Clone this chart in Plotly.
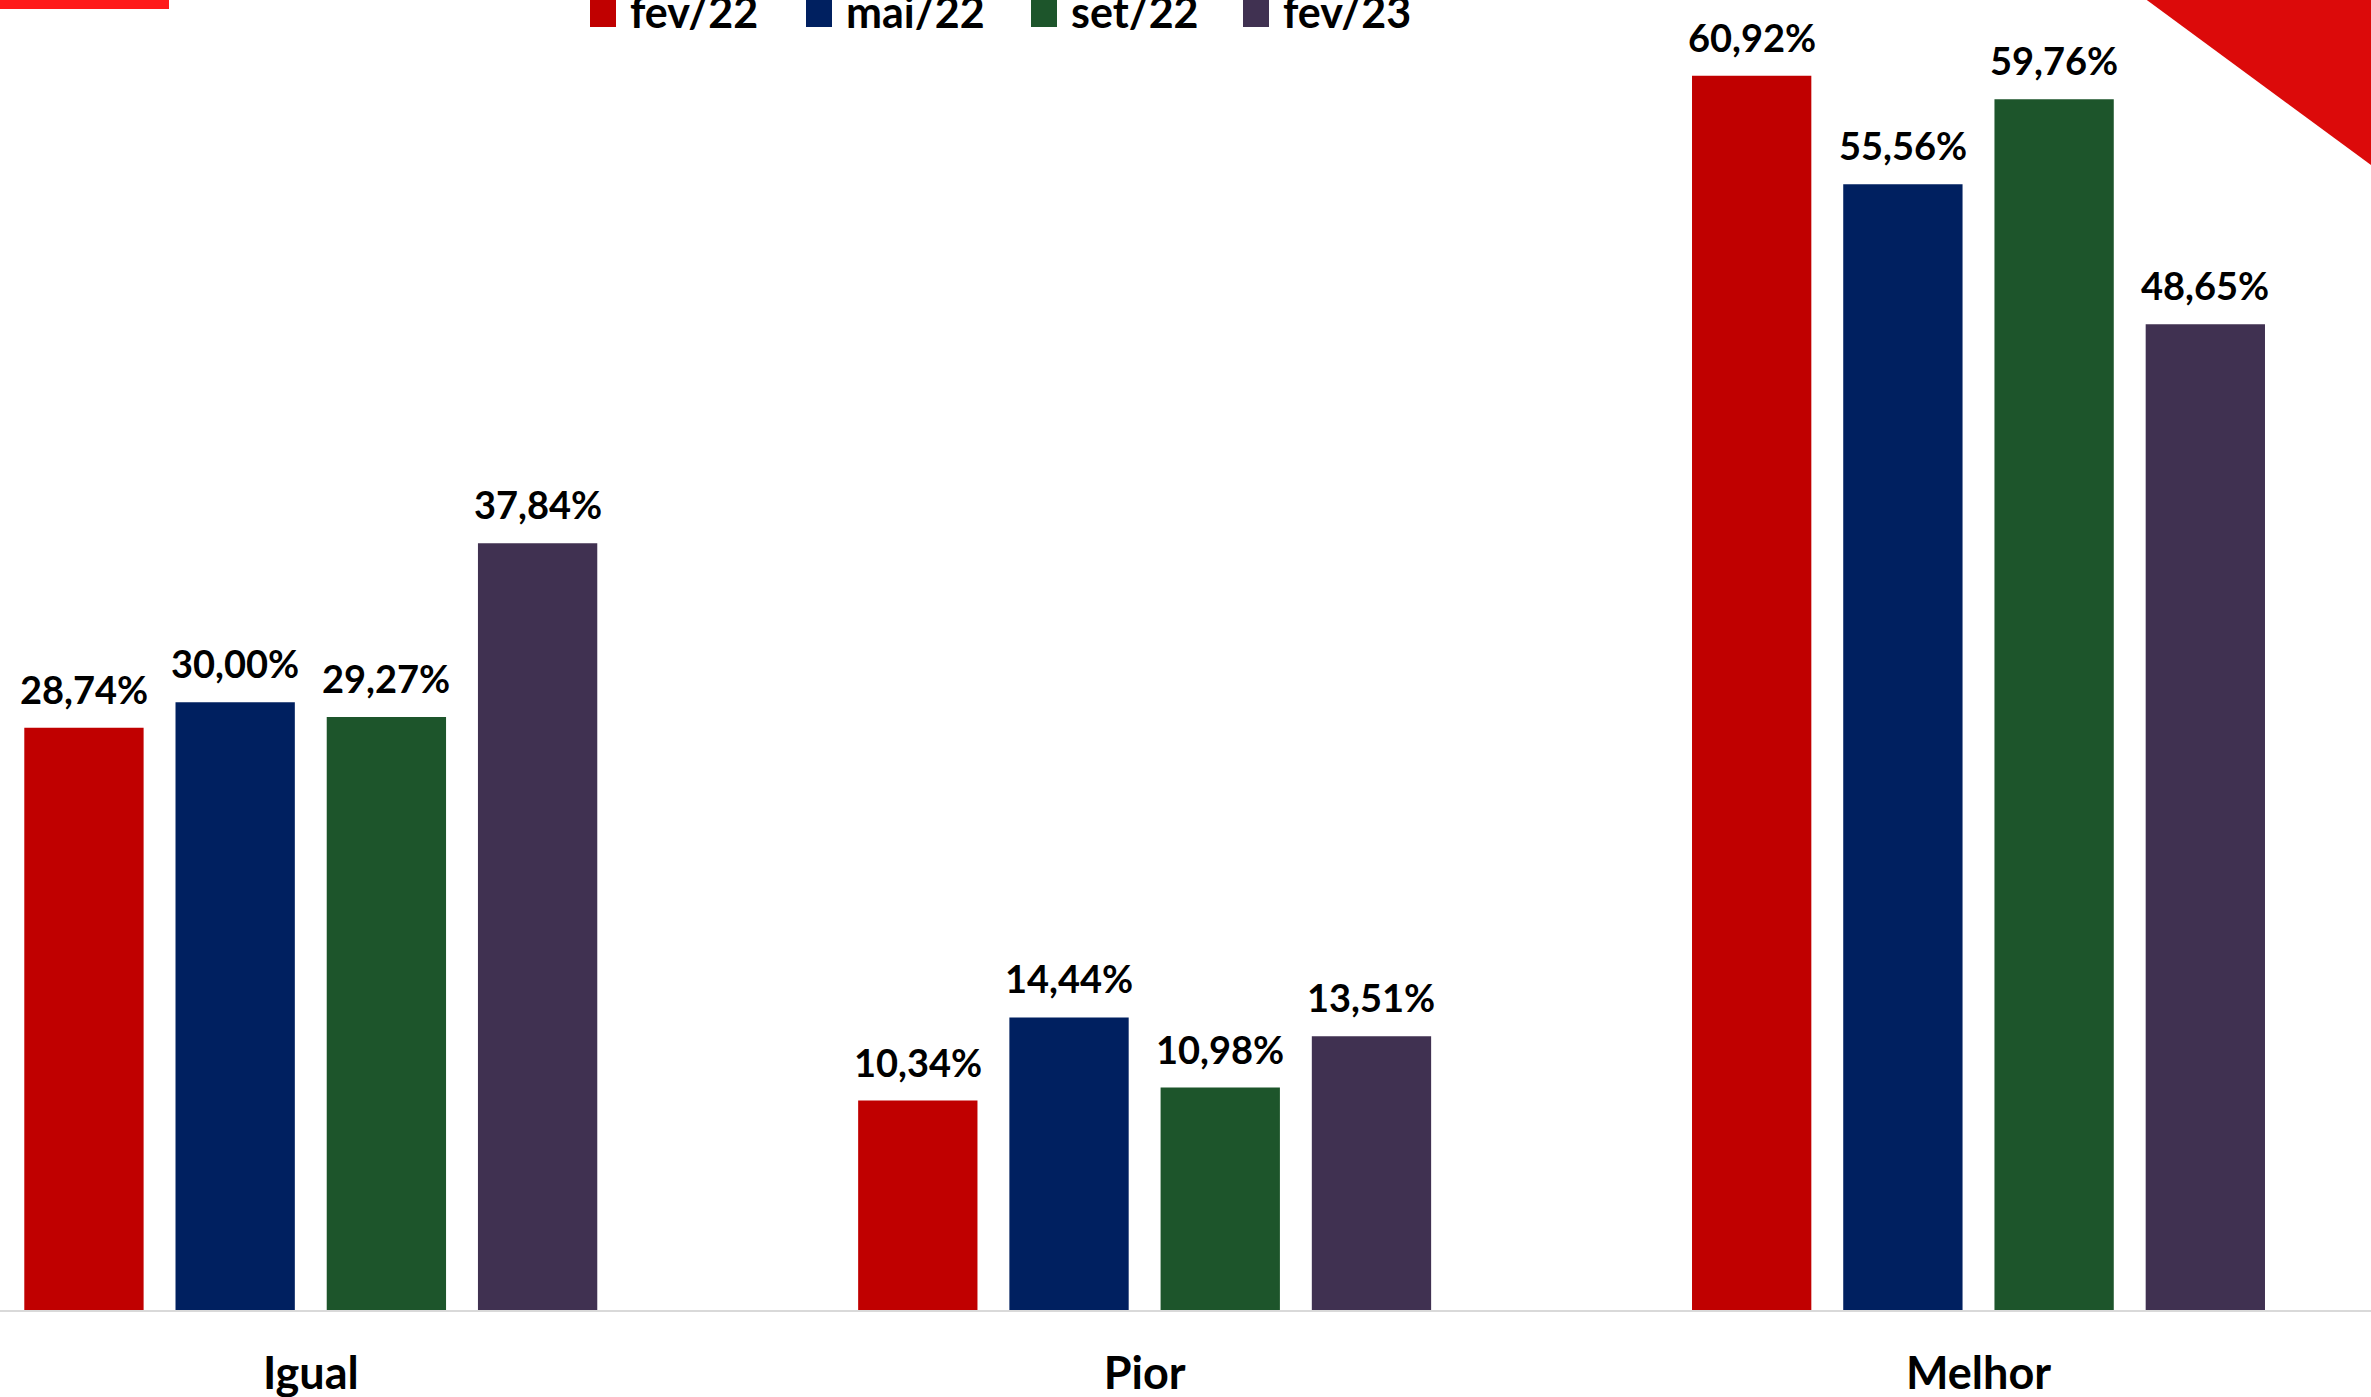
import plotly.graph_objects as go

categories = ["Igual", "Pior", "Melhor"]
series_names = ["fev/22", "mai/22", "set/22", "fev/23"]
fev22 = [28.74, 10.34, 60.92]
mai22 = [30.00, 14.44, 55.56]
set22 = [29.27, 10.98, 59.76]
fev23 = [37.84, 13.51, 48.65]
series_values = [fev22, mai22, set22, fev23]
colors = ["#C00000", "#002060", "#1D552B", "#403151"]

W, H = 2371, 1397
MB = 87
PH = H - MB
FONT = "Lato, 'Liberation Sans', Arial, sans-serif"

fig = go.Figure()
for name, vals, col in zip(series_names, series_values, colors):
    fig.add_trace(go.Bar(x=categories, y=vals, name=name, marker_color=col,
                         marker_line_width=0, showlegend=False))

def fmt(v):
    return f"{v:.2f}".replace(".", ",") + "%"

pitch_px = 151.2
annotations = []
for i, vals in enumerate(series_values):
    for c, v in zip(categories, vals):
        annotations.append(dict(x=c, y=v, xref="x", yref="y", text=fmt(v),
                                showarrow=False, yanchor="bottom",
                                xshift=(i - 1.5) * pitch_px, yshift=14,
                                font=dict(family=FONT, size=38, color="#000000",
                                          weight="bold")))

# custom legend
sq_x = [590, 806, 1031, 1243]
shapes = []
for x0, col, name in zip(sq_x, colors, series_names):
    shapes.append(dict(type="rect", xref="paper", yref="paper",
                       x0=x0 / W, x1=(x0 + 26) / W,
                       y0=1 - 27 / PH, y1=1 + 10 / PH,
                       fillcolor=col, line_width=0))
    annotations.append(dict(x=(x0 + 38) / W, y=1 - 27 / PH, xref="paper", yref="paper",
                            text=name, showarrow=False, xanchor="left", yanchor="bottom",
                            yshift=-12,
                            font=dict(family=FONT, size=43, color="#000000",
                                      weight="bold")))

# decorative corner elements
shapes.append(dict(type="rect", xref="paper", yref="paper", x0=0, x1=169 / W,
                   y0=1 - 9 / PH, y1=1 + 5 / PH, fillcolor="#FF1A1A", line_width=0))
shapes.append(dict(type="path", xref="paper", yref="paper",
                   path=f"M {2140/W} {1 + 5/PH} L 1 {1 + 5/PH} L 1 {1 - 165/PH} Z",
                   fillcolor="#DC0A0A", line_width=0))

fig.update_layout(
    width=W, height=H,
    margin=dict(l=0, r=0, t=0, b=MB, autoexpand=False),
    paper_bgcolor="white", plot_bgcolor="white",
    barmode="group", bargap=0.2746, bargroupgap=0.211,
    showlegend=False,
    annotations=annotations, shapes=shapes,
    xaxis=dict(type="category", range=[-0.3727, 2.4707], showline=True,
               linecolor="#D9D9D9", linewidth=2, ticks="", showgrid=False,
               zeroline=False, ticklabelstandoff=23,
               tickfont=dict(family=FONT, size=45, color="#000000", weight="bold")),
    yaxis=dict(range=[0, 64.66], visible=False, showgrid=False, zeroline=False),
    font=dict(family=FONT),
)

fig.write_html("out.html", config={"displayModeBar": False},
               post_script="document.body.style.margin='0px';document.body.style.overflow='hidden';")
